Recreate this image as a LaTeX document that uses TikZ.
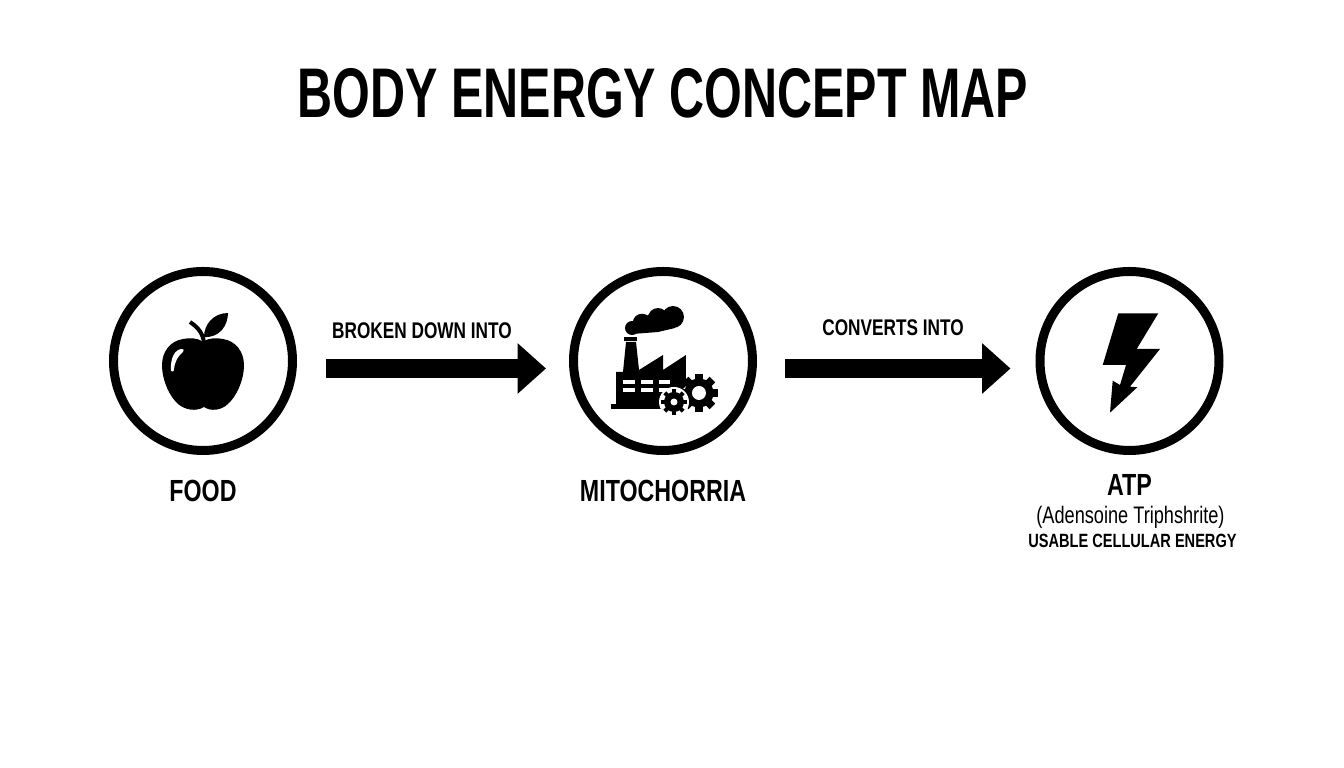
\documentclass[tikz,border=0pt]{standalone}
\usepackage{fontspec}
\usetikzlibrary{positioning,arrows.meta}
\newfontfamily\mapfont[FakeStretch=0.76]{Liberation Sans}
\newfontfamily\titlefont[FakeStretch=0.69]{Liberation Sans}

\tikzset{
  conceptring/.style={draw=black,circle,line width=0.09cm,minimum size=1.79cm,inner sep=0pt,fill=white},
  flowarrow/.style={line width=0.195cm,-{Triangle[length=0.285cm,width=0.49cm]},black},
  maptitle/.style={font=\titlefont\bfseries\fontsize{20}{22}\selectfont,inner sep=0pt},
  conceptname/.style={font=\mapfont\bfseries\fontsize{8.7}{10}\selectfont,inner sep=0pt},
  arrowtext/.style={font=\mapfont\bfseries\fontsize{6.45}{8}\selectfont,inner sep=0pt},
  smalltext/.style={font=\mapfont\bfseries\fontsize{5.46}{7}\selectfont,inner sep=0pt},
  fulltext/.style={font=\mapfont\fontsize{6.8}{8}\selectfont,inner sep=0pt},
  iconscope/.style={x=0.01cm,y=-0.01cm}
}

\begin{document}
\begin{tikzpicture}
  \useasboundingbox (0,0) rectangle (13.44,7.68);
  \fill[white] (0,0) rectangle (13.44,7.68);

  \node[maptitle] (title) at (6.63,6.745) {BODY ENERGY CONCEPT MAP};

  \node[conceptring] (food) at (2.03,4.07) {};
  \node[conceptring] (mito) at (6.63,4.07) {};
  \node[conceptring] (atp) at (11.295,4.07) {};

  \draw[flowarrow,shorten <=0.29cm,shorten >=0.23cm] ([yshift=-0.075cm]food.east) -- ([yshift=-0.075cm]mito.west);
  \draw[flowarrow,shorten <=0.28cm,shorten >=0.25cm] ([yshift=-0.075cm]mito.east) -- ([yshift=-0.075cm]atp.west);

  \node[arrowtext] (brokentext) at (4.22,4.37) {BROKEN DOWN INTO};
  \node[arrowtext] (convertstext) at (8.93,4.40) {CONVERTS INTO};

  \node[conceptname,below=0.24cm of food] (foodname) {FOOD};
  \node[conceptname,below=0.24cm of mito] (mitoname) {MITOCHORRIA};
  \node[conceptname,below=0.19cm of atp] (atpname) {ATP};
  \node[fulltext,below=0.09cm of atpname,xshift=0.01cm] (atpfull) {(Adensoine Triphshrite)};
  \node[smalltext,below=0.04cm of atpfull,xshift=0.02cm] (atpuse) {USABLE CELLULAR ENERGY};

  % apple
  \begin{scope}[iconscope,shift={(food.center)}]
    \fill (0,-19) .. controls (7,-24) and (14,-23) .. (20,-22)
      .. controls (33,-20) and (41,-9) .. (41,4)
      .. controls (41,20) and (33,36) .. (25,43)
      .. controls (19,49) and (8,51) .. (1,46)
      .. controls (-7,51) and (-18,49) .. (-25,43)
      .. controls (-33,36) and (-41,20) .. (-41,4)
      .. controls (-41,-9) and (-33,-20) .. (-20,-22)
      .. controls (-14,-23) and (-7,-24) .. (0,-19) -- cycle;
    \fill[white] (-21,-12) .. controls (-28,-12) and (-33,-3) .. (-32,10)
      .. controls (-29,11) and (-29,10) .. (-29,8)
      .. controls (-28,0) and (-25,-5) .. (-20,-9)
      .. controls (-19,-11) and (-19,-12) .. (-21,-12) -- cycle;
    \draw[line width=0.04cm] (1,-18) .. controls (0,-27) and (-4,-33) .. (-13,-39);
    \fill (1,-24) .. controls (1,-36) and (10,-48) .. (25,-48)
      .. controls (25,-36) and (17,-23) .. (1,-24) -- cycle;
  \end{scope}

  % factory
  \begin{scope}[iconscope,shift={(mito.center)}]
    \foreach \smokex/\smokey/\smoker in {-31/-33/7,-21/-38/9.3,-11/-38/9,-5/-43/10,10/-44/11}{
      \fill (\smokex,\smokey) circle [radius=\smoker];
    }
    \fill (-31,-27) -- (-5,-29) -- (12,-33) -- (10,-44) -- (-21,-38) -- cycle;
    \fill (-39,-24) rectangle (-26,-20);
    \fill (-52,43) rectangle (4,48);
    \fill (-47,43) -- (-47,11) -- (-40,11) -- (-37,-19) -- (-27,-19) -- (-24,9)
      -- (0,-6) -- (0,9) -- (23,-6) -- (23,25) -- (4,43) -- cycle;
    \foreach \winx in {-40,-22,-4}{
      \foreach \winy in {19,27}{
        \fill[white] (\winx,\winy) rectangle ++(11.5,4.5);
      }
    }
    % big gear
    \fill (36,32) circle [radius=14.5];
    \foreach \theta in {0,45,...,315}{
      \fill[rotate around={\theta:(36,32)}] (32,13) rectangle (40,20);
    }
    \fill[white] (36,32) circle [radius=7];
    % small gear
    \fill[white] (11,41) circle [radius=15];
    \fill (11,41) circle [radius=10];
    \foreach \theta in {0,45,...,315}{
      \fill[rotate around={\theta:(11,41)}] (9,28) rectangle (13,33);
    }
    \fill[white] (11,41) circle [radius=3.5];
  \end{scope}

  % bolt
  \begin{scope}[iconscope,shift={(atp.center)}]
    \fill (-11.2,-47.7) -- (28.8,-47.7) -- (7.2,-12) -- (30.5,-12) -- (0.5,25.7)
      -- (7.8,26.3) -- (-19.5,51.7) -- (-16.8,19.7) -- (-9.5,24) -- (-3.5,4)
      -- (-26.8,4) -- cycle;
  \end{scope}
\end{tikzpicture}
\end{document}
